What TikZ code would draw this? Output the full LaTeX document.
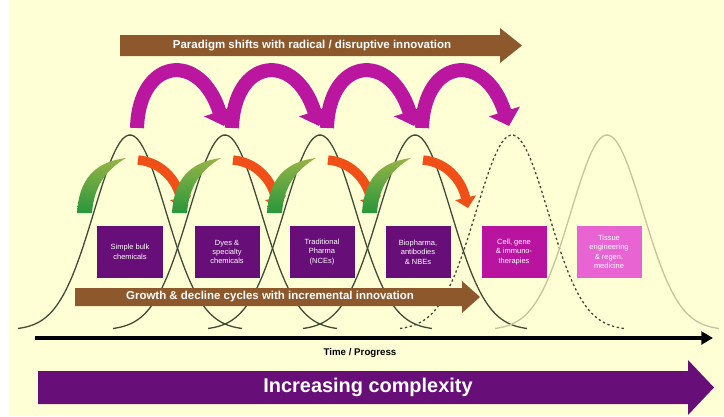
\documentclass[tikz,border=0pt]{standalone}
\usepackage{fontspec}
\setmainfont{Liberation Sans}
\usetikzlibrary{arrows.meta,calc}

\definecolor{bgyellow}{RGB}{255,255,214}
\definecolor{stagepurple}{RGB}{104,14,120}
\definecolor{stagemagenta}{RGB}{184,20,160}
\definecolor{stagepink}{RGB}{232,100,210}
\definecolor{jumpmagenta}{RGB}{186,22,160}
\definecolor{cyclebrown}{RGB}{140,88,44}
\definecolor{bellgrey}{RGB}{62,74,54}
\definecolor{belllight}{RGB}{196,196,156}
\definecolor{growgreen}{RGB}{40,150,60}
\definecolor{growlight}{RGB}{150,180,70}
\definecolor{declineorange}{RGB}{240,80,24}

\tikzset{
  stagebox/.style={fill=#1, text=white, minimum width=1.95cm, minimum height=1.56cm,
    inner sep=1pt, align=center, font=\fontsize{6.4}{8}\selectfont},
  bell/.style={line width=1.1pt, color=bellgrey},
  jump/.style={line width=12pt, color=jumpmagenta, -{Triangle[length=13pt,width=27pt]}},
  decline/.style={line width=8pt, color=declineorange, -{Triangle[length=9pt,width=18pt]}},
  bandtext/.style={text=white, font=\fontsize{9.8}{11}\selectfont\bfseries}
}

\begin{document}
\begin{tikzpicture}[x=0.03cm, y=-0.03cm]
  %%%%% background %%%%%
  \fill[white] (0,0) rectangle (724,416);
  \fill[bgyellow] (9,0) rectangle (724,416);
  \useasboundingbox (0,0) rectangle (724,416);

  %%%%% bells %%%%%
  \foreach \p in {130,225,320,415}{
    \pgfmathsetmacro\lo{\p-112}
    \pgfmathsetmacro\hi{\p+112}
    \draw[bell, domain=\lo:\hi, samples=80] plot (\x,{330-195*exp(-((\x-\p)^2)/2592)});
  }
  \draw[bell, dash pattern=on 2pt off 2.2pt, domain=400:624, samples=80]
    plot (\x,{330-195*exp(-((\x-512)^2)/2592)});
  \draw[bell, color=belllight, domain=495:719, samples=80]
    plot (\x,{330-195*exp(-((\x-607)^2)/2592)});

  %%%%% stages %%%%%
  \node[stagebox=stagepurple] (simple) at (130,252) {Simple bulk\\chemicals};
  \node[stagebox=stagepurple] (dyes) at (227,252) {Dyes \&\\specialty\\chemicals};
  \node[stagebox=stagepurple] (pharma) at (322,252) {Traditional\\Pharma\\(NCEs)};
  \node[stagebox=stagepurple] (biopharma) at (418,252) {Biopharma,\\antibodies\\\& NBEs};
  \node[stagebox=stagemagenta] (cell) at (514,252) {Cell, gene\\\& immuno-\\therapies};
  \node[stagebox=stagepink] (tissue) at (609,252) {Tissue\\engineering\\\& regen.\\medicine};

  %%%%% incremental cycles %%%%%
  \foreach \p in {130,225,320,415}{
    \shade[top color=growlight, bottom color=growgreen]
      (\p-53,213) .. controls (\p-51,180) and (\p-36,162) .. (\p-4,158)
      .. controls (\p-24,170) and (\p-36,186) .. (\p-38,213) -- cycle;
    \draw[decline] (\p+8,160) .. controls (\p+30,162) and (\p+46,178) .. (\p+53,208);
  }

  %%%%% radical jumps %%%%%
  \foreach \p in {130,225,320,415}
    \draw[jump] (\p+7,128) .. controls (\p+9,58) and (\p+70,50) .. (\p+94,126);

  %%%%% bands %%%%%
  \fill[cyclebrown] (120,35) -- (500,35) -- (500,28) -- (522,45.5) -- (500,63) -- (500,56) -- (120,56) -- cycle;
  \node[bandtext] (paradigm) at (312,45.5) {Paradigm shifts with radical / disruptive innovation};

  \fill[cyclebrown] (75,288) -- (462,288) -- (462,281) -- (480,297) -- (462,313) -- (462,306) -- (75,306) -- cycle;
  \node[bandtext] (growth) at (270,297) {Growth \& decline cycles with incremental innovation};

  %%%%% axis %%%%%
  \coordinate (origin) at (35,338);
  \coordinate (axisend) at (713,338);
  \draw[line width=2.6pt, -{Triangle[length=10pt,width=11pt]}] (origin) -- (axisend);
  \node[font=\fontsize{8.3}{10}\selectfont\bfseries] (time) at (360,353) {Time / Progress};

  %%%%% complexity %%%%%
  \fill[stagepurple] (38,371) -- (688,371) -- (688,360) -- (714,387.5) -- (688,415) -- (688,404) -- (38,404) -- cycle;
  \node[text=white, font=\fontsize{17}{20}\selectfont\bfseries] (complexity) at (368,387.5) {Increasing complexity};
\end{tikzpicture}
\end{document}
